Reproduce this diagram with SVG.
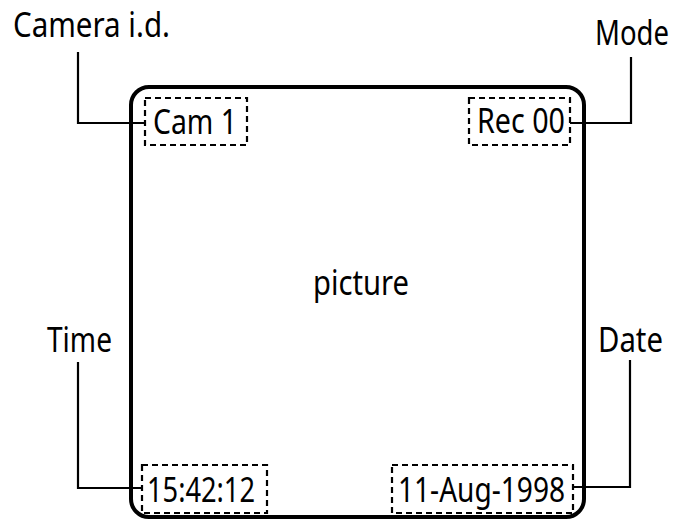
<svg xmlns="http://www.w3.org/2000/svg" width="679" height="520" viewBox="0 0 679 520">
<style>
text{font-family:"Noto Sans","Open Sans","Liberation Sans",sans-serif;font-size:34px;fill:#000}
.frame{fill:none;stroke:#000;stroke-width:4}
.dash{fill:none;stroke:#000;stroke-width:2.2;stroke-dasharray:6 4}
.conn{fill:none;stroke:#000;stroke-width:2.2}
</style>
<rect width="679" height="520" fill="#fff"/>
<g id="screen">
<rect class="frame" x="131" y="87" width="453" height="430" rx="18" ry="18"/>
<text x="313" y="295" textLength="96" lengthAdjust="spacingAndGlyphs">picture</text>
</g>
<g id="connectors">
<polyline class="conn" points="78,52 78,123 145,123"/>
<polyline class="conn" points="631,57 631,123 570,123"/>
<polyline class="conn" points="78,362 78,488 142,488"/>
<polyline class="conn" points="630,360 630,487 573,487"/>
</g>
<g id="camera-id-label"><text x="13" y="37" textLength="157" lengthAdjust="spacingAndGlyphs">Camera i.d.</text></g>
<g id="mode-label"><text x="595" y="45" textLength="74" lengthAdjust="spacingAndGlyphs">Mode</text></g>
<g id="time-label"><text x="47" y="352" textLength="65" lengthAdjust="spacingAndGlyphs">Time</text></g>
<g id="date-label"><text x="598" y="352" textLength="65" lengthAdjust="spacingAndGlyphs">Date</text></g>
<g id="cam1">
<rect class="dash" x="145" y="98" width="102" height="47"/>
<text x="153" y="134" textLength="84" lengthAdjust="spacingAndGlyphs">Cam 1</text>
</g>
<g id="rec00">
<rect class="dash" x="469" y="98" width="101" height="47"/>
<text x="477" y="133" textLength="88" lengthAdjust="spacingAndGlyphs">Rec 00</text>
</g>
<g id="time">
<rect class="dash" x="142" y="465" width="125" height="48"/>
<text x="147" y="502" textLength="108" lengthAdjust="spacingAndGlyphs">15:42:12</text>
</g>
<g id="date">
<rect class="dash" x="392" y="465" width="181" height="48"/>
<text x="398" y="502" textLength="167" lengthAdjust="spacingAndGlyphs">11-Aug-1998</text>
</g>
</svg>
